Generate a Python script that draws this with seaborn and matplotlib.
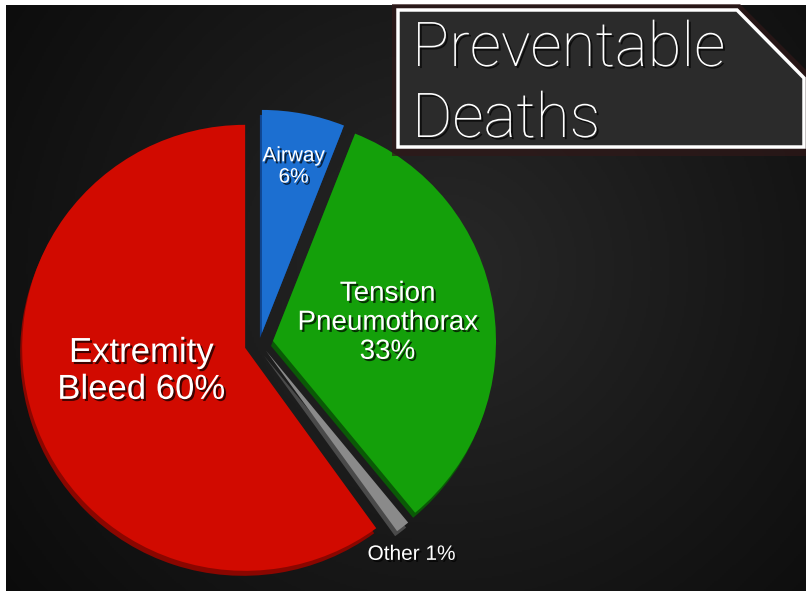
import numpy as np
import matplotlib
matplotlib.use('Agg')
import matplotlib.pyplot as plt
import matplotlib.patheffects as pe
from matplotlib.patches import Polygon
from matplotlib.colors import LinearSegmentedColormap
import seaborn as sns

# Data
causes = ['Airway', 'Tension Pneumothorax', 'Other', 'Extremity Bleed']
shares = [6, 33, 1, 60]
slice_labels = ['Airway\n6%', 'Tension\nPneumothorax\n33%', 'Other 1%', 'Extremity\nBleed 60%']
title_lines = ['Preventable', 'Deaths']

# styling per slice
colors = ['#1c6fd1', '#14a00a', '#8a8a8a', '#d10a00']
side_colors = ['#0f4590', '#0a5a06', '#4a4a4a', '#8a0600']
explode = [0.046, 0.059, 0.044, 0.07]
label_dist = [0.76, 0.52, 1.11, 0.48]
label_nudge = [(0, 0), (0, 0), (-6, -8), (-2, 10)]  # pixels, fine tuning
label_size = [15, 20, 15, 25]

sns.set_style('dark')
plt.rcParams['font.family'] = ['Liberation Sans', 'DejaVu Sans']

W, H = 806, 591
fig = plt.figure(figsize=(W / 100, H / 100), dpi=100, facecolor='white')


def fx(px):
    return px / W


def fy(py):
    return 1 - py / H


# chalkboard background
bg = fig.add_axes([fx(6), 0, 800 / W, 586 / H])
yy, xx = np.mgrid[0:1:300j, 0:1:400j]
r = np.sqrt((xx - 0.55) ** 2 + ((yy - 0.45) * 0.75) ** 2)
board = LinearSegmentedColormap.from_list('board', ['#282828', '#191919', '#0b0b0b'])
bg.imshow(r, cmap=board, vmin=0, vmax=0.7, aspect='auto', extent=[0, 1, 0, 1])
bg.axis('off')

# pie axes, units of pie radius
R = 223
cx, cy = 260, 343
ax = fig.add_axes([0, 0, 1, 1])
ax.pie(shares, explode=explode, colors=side_colors, startangle=90, counterclock=False,
       center=(-2 / R, -5 / R), wedgeprops=dict(linewidth=0))
wedges, _ = ax.pie(shares, explode=explode, colors=colors, startangle=90,
                   counterclock=False, wedgeprops=dict(linewidth=0))

shadow = [pe.withSimplePatchShadow(offset=(1.5, -1.5), shadow_rgbFace='black', alpha=0.7)]
for w, lab, d, nd, s in zip(wedges, slice_labels, label_dist, label_nudge, label_size):
    ang = np.deg2rad((w.theta1 + w.theta2) / 2)
    x = w.center[0] + d * np.cos(ang) + nd[0] / R
    y = w.center[1] + d * np.sin(ang) + nd[1] / R
    ax.text(x, y, lab, ha='center', va='center', fontsize=s, color='white',
            linespacing=1.15, path_effects=shadow)

ax.set_xlim(-cx / R, (W - cx) / R)
ax.set_ylim(-(H - cy) / R, cy / R)
ax.set_aspect('equal')
ax.axis('off')

# title box with clipped corner
box = [(398, 10), (737, 10), (804, 78), (804, 147), (398, 147)]
glow = [(392, 4), (740, 4), (806, 70), (806, 156), (392, 156)]
fig.add_artist(Polygon([(fx(a), fy(b)) for a, b in glow], closed=True, transform=fig.transFigure,
                       facecolor='#301818', edgecolor='none', alpha=0.7))
fig.add_artist(Polygon([(fx(a), fy(b)) for a, b in box], closed=True, transform=fig.transFigure,
                       facecolor='#2b2b2b', edgecolor='white', linewidth=2.5))
for i, line in enumerate(title_lines):
    fig.text(fx(412), fy(66 + 71 * i), line, fontsize=44.5, color='white',
             family=['Roboto', 'Liberation Sans'], fontweight='light', va='baseline',
             path_effects=shadow)

fig.savefig('out.png', dpi=100, facecolor=fig.get_facecolor())
